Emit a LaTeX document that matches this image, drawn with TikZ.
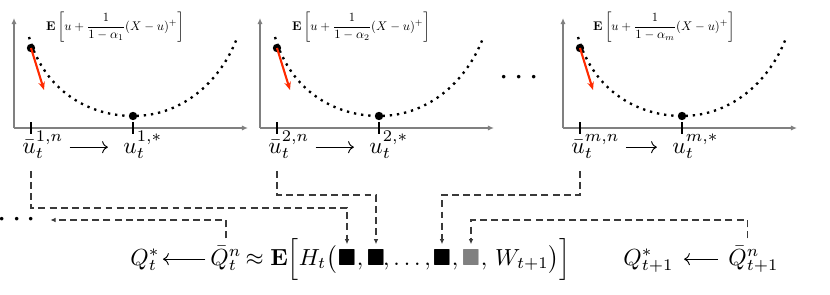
\documentclass[tikz,border=0pt]{standalone}
\usepackage{amsmath,amssymb}
\usepackage{xcolor}
\usetikzlibrary{arrows.meta,positioning,calc}
\definecolor{axisgray}{HTML}{808080}
\definecolor{red2}{HTML}{FF2A00}
\definecolor{sqgray}{HTML}{808080}
\definecolor{linkgray}{HTML}{3A3A3A}

\begin{document}
\begin{tikzpicture}[
    x=0.0151cm, y=-0.0151cm,
    every node/.style={font=\normalsize},
    axisline/.style={draw=axisgray,line width=0.6pt,-{Latex[length=2.6pt,width=2.2pt]}},
    tickmark/.style={line width=0.6pt},
    curveline/.style={line width=1pt,dash pattern=on 1pt off 2.1pt},
    ptdot/.style={circle,fill=black,inner sep=0pt,minimum size=3.6pt},
    grad/.style={red2,line width=0.9pt,-{Stealth[length=3.5pt,width=2.8pt]}},
    link/.style={linkgray,line width=0.5pt,dash pattern=on 3pt off 1.8pt,
                 -{Latex[length=2.2pt,width=2pt]}},
    lbl/.style={inner sep=0pt,anchor=base west},
    sq/.style={inner sep=0pt,anchor=base},
    fn/.style={inner sep=0pt,scale=0.54},
    dotsnode/.style={font=\Large,inner sep=0pt},
    cmarrow/.style={line width=0.4pt,-{Computer Modern Rightarrow}},
  ]
  \useasboundingbox (0,0) rectangle (830,295);

  % one panel per risk level
  \foreach \i/\s in {1/0,2/246,m/549}{
    \begin{scope}[shift={(\s,0)}]
      \draw[axisline] (14,128) -- (14,18);
      \draw[axisline] (14,128) -- (248,128);
      \coordinate (tk\i) at (31,128);
      \draw[tickmark] (31,122) -- (31,134);
      \draw[tickmark] (133,122) -- (133,134);
      \draw[curveline] (29,37) .. controls (45,92) and (90,116) .. (133,116)
                               .. controls (185,116) and (222,78) .. (237,38);
      \node[ptdot] (p\i) at (31,48) {};
      \node[ptdot] (q\i) at (133,116) {};
      \draw[grad] (p\i.center) -- (44,90);
      \node[fn] (f\i) at (115,27)
        {$\mathbf{E}\left[u+\dfrac{1}{1-\alpha_\i}(X-u)^+\right]$};
      \node[lbl] (ub\i) at (22,153) {$\bar{u}_t^{\i,n}$};
      \node[lbl] (us\i) at (123,153) {$u_t^{\i,*}$};
      \draw[cmarrow] ([xshift=2.5pt,yshift=2.5pt]ub\i.base east)
        -- ([xshift=-6.5pt,yshift=2.5pt]us\i.base west);
    \end{scope}
  }

  \node[dotsnode] (dm) at (522,78) {$\cdots$};
  \node[dotsnode] (dl) at (19.5,220) {$\cdots$};

  % Bellman side at t
  \node[lbl] (Qs) at (130,265) {$Q_t^*$};
  \node[lbl] (Qb) at (210,265) {$\bar{Q}_t^n$};
  \node[sq] (s1) at (347,265) {$\blacksquare$};
  \node[sq] (s2) at (376,265) {$\blacksquare$};
  \node[sq] (s3) at (442,265) {$\blacksquare$};
  \node[sq,text=sqgray] (s4) at (471,265) {$\blacksquare$};
  \node[inner sep=0pt,anchor=base east] (ex) at (s1.base west) {$\approx\mathbf{E}\Big[H_t\big($};
  \node[lbl] (c1) at (s1.base east) {$,$};
  \node[sq] (c2) at ($(s2.base east)!0.5!(s3.base west)$) {$,\ldots,\,$};
  \node[lbl] (c3) at (s3.base east) {$,$};
  \node[lbl] (wt) at (s4.base east) {$,\,W_{t+1}\big)\Big]$};
  \draw[cmarrow] ([xshift=-2pt,yshift=2.5pt]Qb.base west)
    -- ([xshift=1.3pt,yshift=2.5pt]Qs.base east);

  % stage t+1
  \node[lbl] (Qs1) at (623,265) {$Q_{t+1}^*$};
  \node[lbl] (Qb1) at (728,265) {$\bar{Q}_{t+1}^n$};
  \draw[cmarrow] ([xshift=-4.3pt,yshift=2.5pt]Qb1.base west)
    -- ([xshift=4.3pt,yshift=2.5pt]Qs1.base east);

  % dashed feeds into H_t
  \draw[link,shorten <=5pt,shorten >=2pt] (tk1 |- ub1.south) -- (tk1 |- 0,208) -| (s1.north);
  \draw[link,shorten <=5pt,shorten >=2pt] (tk2 |- ub2.south) -- (tk2 |- 0,195) -| (s2.north);
  \draw[link,shorten <=5pt,shorten >=2pt] (tkm |- ubm.south) -- (tkm |- 0,195) -| (s3.north);
  \draw[link,shorten <=3pt,shorten >=2pt] ([xshift=-2.6pt]Qb1.north)
    -- ([xshift=-2.6pt]Qb1.north |- 0,220) -| (s4.north);
  \draw[link,shorten <=3pt,shorten >=3.5pt] (Qb.north) -- (Qb.north |- 0,220) -- (dl.east);
\end{tikzpicture}
\end{document}
